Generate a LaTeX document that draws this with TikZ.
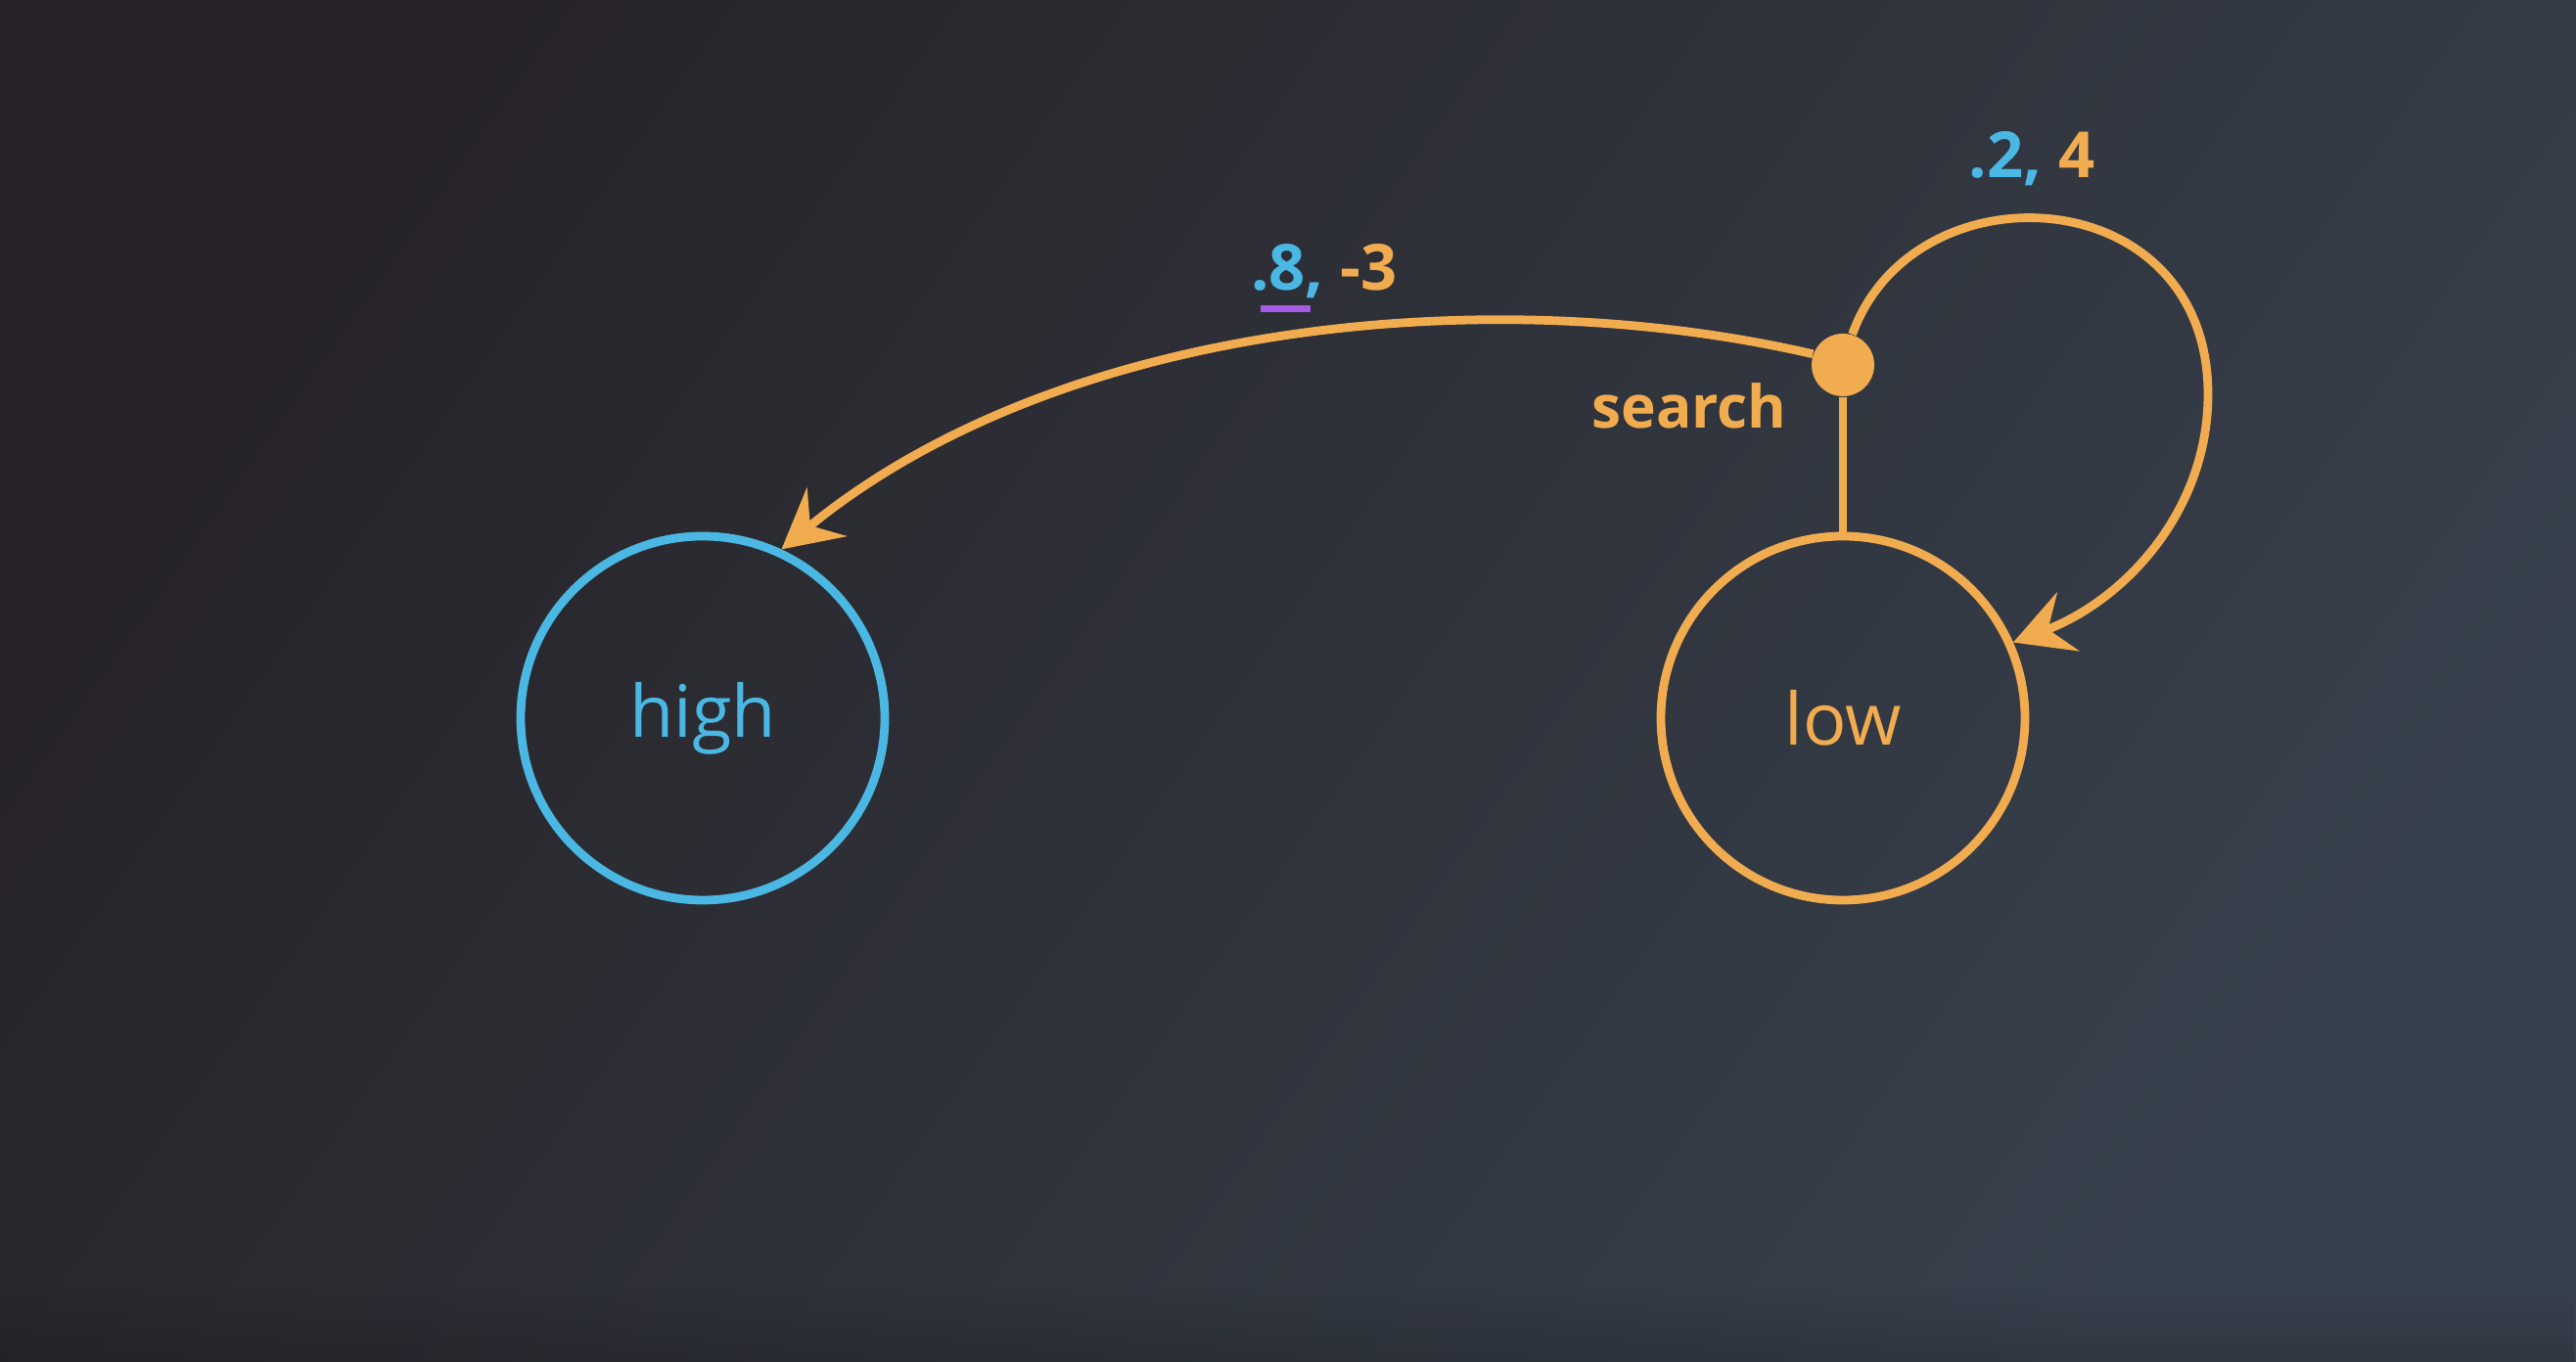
\documentclass[tikz,border=0pt]{standalone}
\usepackage{fontspec}
\setmainfont{Open Sans}
\usetikzlibrary{arrows.meta,fadings}

\definecolor{bgdark}{HTML}{272328}
\definecolor{bglight}{HTML}{37414D}
\definecolor{qblue}{HTML}{4AB8E3}
\definecolor{qorange}{HTML}{F2AC50}
\definecolor{qpurple}{HTML}{A35CE3}

\def\picW{26.32}
\def\picH{13.92}
\def\lineW{2.5pt}

\begin{document}
\begin{tikzpicture}[>={Stealth[length=0.6cm, width=0.64cm, inset=0.22cm]},
  state/.style={circle, draw, line width=\lineW, minimum size=3.72cm,
    font=\fontsize{21}{21}\selectfont},
  link/.style={qorange, line width=\lineW},
  edge/.style={link, ->},
  lbl/.style={anchor=base, font=\bfseries\fontsize{18.5}{18.5}\selectfont}]
  \useasboundingbox (0,0) rectangle (\picW,\picH);
  \shade[top color=bgdark, bottom color=bglight, shading angle=55]
  (0,0) rectangle (\picW,\picH);
  \fill[black, fill opacity=0.15, path fading=north] (0,0) rectangle (\picW,0.8);

  \node[state, qblue] (high) at (7.18,6.58) {high};
  \node[state, qorange] (low) at (18.83,6.58) {low};
  \node[circle, fill=qorange, minimum size=0.64cm, inner sep=0] (search) at (18.83,10.19) {};
  \node[lbl, qorange, font=\bfseries\fontsize{17.2}{17.2}\selectfont] (searchLbl) at (17.26,9.54) {search};

  \draw[link] (search) -- (low);
  \draw[edge] (search.160) .. controls (15.20,11.07) and (10.80,10.62) .. (high.65);
  \coordinate (loopR) at (22.56,9.89);
  \draw[edge] (search.73) .. controls (19.55,12.25) and (22.56,12.10) .. (loopR)
  .. controls (22.56,8.69) and (21.70,7.78) .. (low.24);

  \node[lbl] (toHigh) at (13.53,10.95) {\textcolor{qblue}{.8,} \textcolor{qorange}{-3}};
  \node[lbl] (toLow) at (20.76,12.10) {\textcolor{qblue}{.2,} \textcolor{qorange}{4}};
  \draw[qpurple, line width=0.075cm] (12.88,10.765) -- (13.39,10.765);
\end{tikzpicture}
\end{document}
